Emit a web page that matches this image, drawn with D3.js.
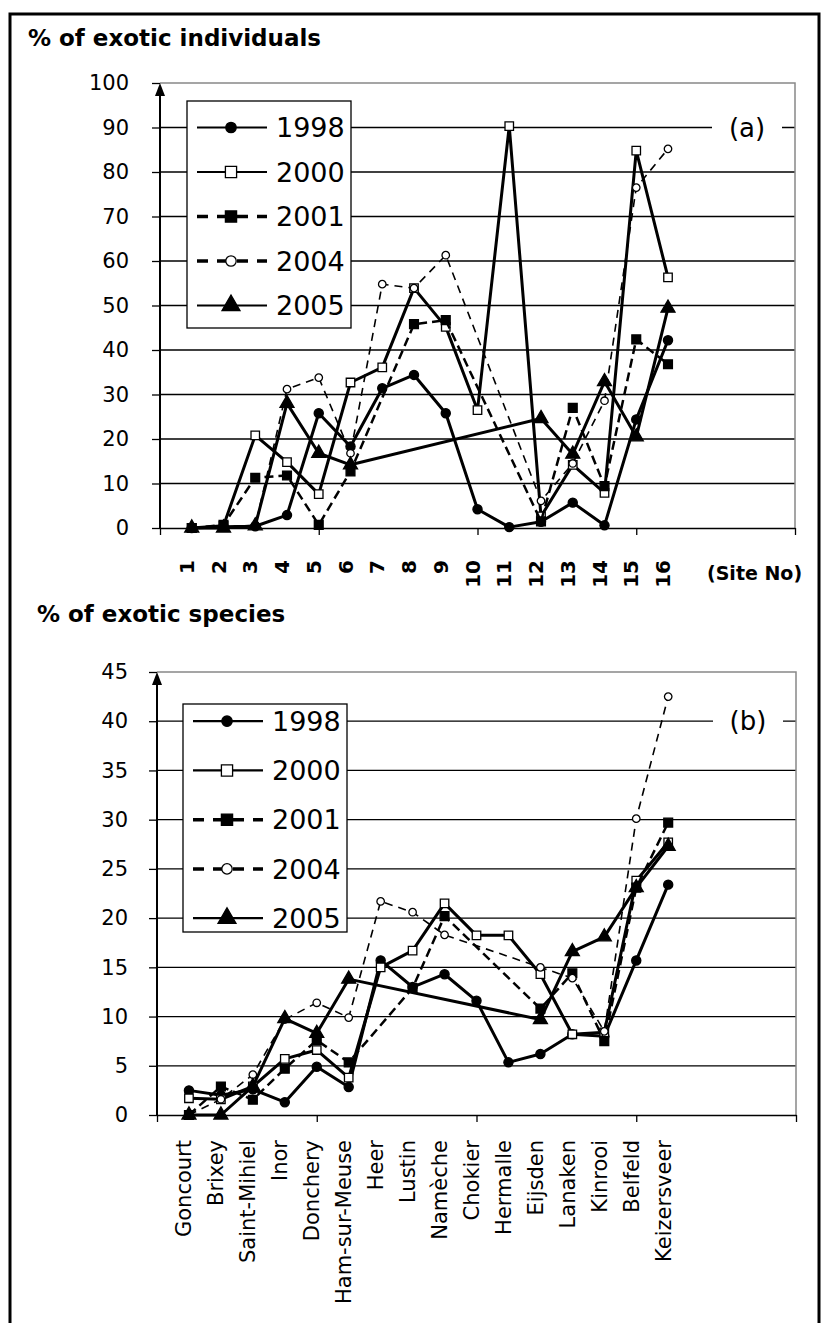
<!DOCTYPE html>
<html>
<head>
<meta charset="utf-8">
<script src="https://cdn.jsdelivr.net/npm/d3@7"></script>
<style>
  body { margin: 0; background: #fff; }
  svg { display: block; font-family: "Comic Sans MS", "DejaVu Sans", sans-serif; }
</style>
</head>
<body>
<svg id="chart" width="822" height="1323"></svg>
<script>
// site labels
const siteNumbers = ['1', '2', '3', '4', '5', '6', '7', '8', '9', '10', '11', '12', '13', '14', '15', '16'];
const siteNames = ['Goncourt', 'Brixey', 'Saint-Mihiel', 'Inor', 'Donchery', 'Ham-sur-Meuse', 'Heer', 'Lustin',
  'Namèche', 'Chokier', 'Hermalle', 'Eijsden', 'Lanaken', 'Kinrooi', 'Belfeld', 'Keizersveer'];
const years = ['1998', '2000', '2001', '2004', '2005'];

// (a) % of exotic individuals  (null = site not sampled that year)
const indiv1998 = [0, 0.3, 0.4, 2.9, 25.8, 18.3, 31.4, 34.4, 25.8, 4.2, 0.2, 1.4, 5.7, 0.6, 24.4, 42.2];
const indiv2000 = [0, 0.5, 20.8, 14.8, 7.6, 32.7, 36.1, 53.9, 45.2, 26.5, 90.3, 2.6, 14.2, 7.9, 84.8, 56.3];
const indiv2001 = [0, 0.7, 11.3, 11.8, 0.7, 12.7, null, 45.8, 46.7, null, null, 1.5, 27.0, 9.4, 42.4, 36.8];
const indiv2004 = [0, 0.3, 0.5, 31.2, 33.8, 16.8, 54.8, 53.9, 61.3, null, null, 6.1, 14.5, 28.6, 76.5, 85.2];
const indiv2005 = [0, 0, 0.5, 28.0, 16.8, 14.2, null, null, null, null, null, 24.6, 16.6, 32.9, 20.5, 49.4];

// (b) % of exotic species
const spec1998 = [2.5, 2.0, 2.6, 1.3, 4.9, 2.85, 15.7, 13.0, 14.3, 11.6, 5.35, 6.2, 8.2, 8.0, 15.7, 23.4];
const spec2000 = [1.7, 1.6, 2.9, 5.7, 6.6, 3.8, 15.0, 16.7, 21.5, 18.25, 18.25, 14.3, 8.2, 8.4, 23.8, 27.7];
const spec2001 = [0, 2.9, 1.55, 4.7, 7.6, 5.35, null, 12.9, 20.2, null, null, 10.8, 14.4, 7.5, 23.1, 29.7];
const spec2004 = [0, 1.6, 4.1, 9.7, 11.4, 9.9, 21.7, 20.6, 18.3, null, null, 15.0, 13.9, 8.5, 30.1, 42.5];
const spec2005 = [0, 0, 2.9, 9.8, 8.3, 13.8, null, null, null, null, null, 9.7, 16.6, 18.1, 23.1, 27.3];

// axis ticks
const ticksA = [0, 10, 20, 30, 40, 50, 60, 70, 80, 90, 100];
const ticksB = [0, 5, 10, 15, 20, 25, 30, 35, 40, 45];
const xTicks = [0, 5, 10, 15, 20];

// line / marker style per year
const styles = {
  '1998': { width: 3, dash: null, symbol: d3.symbolCircle, size: 66, legendSize: 85, fill: '#000' },
  '2000': { width: 3, dash: null, symbol: d3.symbolSquare, size: 72, legendSize: 125, fill: '#fff' },
  '2001': { width: 2.5, dash: '9,5', symbol: d3.symbolSquare, size: 78, legendSize: 125, fill: '#000' },
  '2004': { width: 1.6, dash: '8,6', symbol: d3.symbolCircle, size: 44, legendSize: 85, fill: '#fff' },
  '2005': { width: 3, dash: null, symbol: d3.symbolTriangle, size: 85, legendSize: 140, fill: '#000' }
};

const svg = d3.select('#chart');

// outer frame
svg.append('rect')
  .attr('x', 10).attr('y', 14).attr('width', 809).attr('height', 1330)
  .attr('fill', 'none').attr('stroke', '#000').attr('stroke-width', 3);

function drawPanel(p) {
  const x = d3.scaleLinear().domain([0, 20]).range([p.left, p.right]);
  const y = d3.scaleLinear().domain([0, p.yMax]).range([p.bottom, p.top]);
  const g = svg.append('g');

  // horizontal gridlines
  g.selectAll('.grid')
    .data(p.yTicks.filter(v => v > 0 && v < p.yMax))
    .enter().append('line')
    .attr('x1', p.left).attr('x2', p.right)
    .attr('y1', d => y(d)).attr('y2', d => y(d))
    .attr('stroke', '#000').attr('stroke-width', 1.3);

  // plot area border (top + right)
  g.append('path')
    .attr('d', `M${p.left},${p.top}H${p.right}V${p.bottom}`)
    .attr('fill', 'none').attr('stroke', '#888').attr('stroke-width', 1.5);

  // y axis
  const ya = g.append('g')
    .attr('transform', `translate(${p.left},0)`)
    .call(d3.axisLeft(y).tickValues(p.yTicks).tickSize(8).tickSizeOuter(0).tickPadding(p.pad));
  ya.attr('font-family', null).attr('font-size', null);
  ya.select('.domain').remove();
  ya.selectAll('line').attr('stroke', '#000').attr('stroke-width', 1.3);
  ya.selectAll('text').attr('font-size', 21).attr('fill', '#000');

  g.append('line')
    .attr('x1', p.left).attr('x2', p.left).attr('y1', p.bottom).attr('y2', p.top + 10)
    .attr('stroke', '#000').attr('stroke-width', 2);
  g.append('path')
    .attr('d', `M${p.left},${p.top}L${p.left - 5},${p.top + 13}L${p.left + 5},${p.top + 13}Z`)
    .attr('fill', '#000');

  // x axis
  const xa = g.append('g')
    .attr('transform', `translate(0,${p.bottom})`)
    .call(d3.axisBottom(x).tickValues(xTicks).tickSize(7).tickSizeOuter(0).tickFormat(''));
  xa.select('.domain').attr('stroke', '#000').attr('stroke-width', 1.5);
  xa.selectAll('line').attr('stroke', '#000').attr('stroke-width', 1.3);

  // site labels, rotated
  g.selectAll('.site')
    .data(p.labels)
    .enter().append('text')
    .attr('transform', (d, i) => `translate(${x(i + 1) - 5},${p.labelTop}) rotate(-90)`)
    .attr('text-anchor', 'end')
    .attr('dy', '0.35em')
    .attr('font-size', p.labelSize)
    .attr('font-weight', p.labelWeight)
    .text(d => d);

  // series
  const line = d3.line().x(d => x(d.n)).y(d => y(d.v));
  p.series.forEach((vals, k) => {
    const st = styles[years[k]];
    const pts = vals.map((v, i) => ({ n: i + 1, v })).filter(d => d.v !== null);
    g.append('path')
      .datum(pts)
      .attr('d', line)
      .attr('fill', 'none').attr('stroke', '#000')
      .attr('stroke-width', st.width)
      .attr('stroke-dasharray', st.dash)
      .attr('stroke-linejoin', 'round');
    g.selectAll(null)
      .data(pts)
      .enter().append('path')
      .attr('transform', d => `translate(${x(d.n)},${y(d.v)})`)
      .attr('d', d3.symbol().type(st.symbol).size(st.size))
      .attr('fill', st.fill).attr('stroke', '#000').attr('stroke-width', 1.3);
  });

  // legend
  const lg = g.append('g');
  lg.append('rect')
    .attr('x', p.legend.x).attr('y', p.legend.y)
    .attr('width', p.legend.w).attr('height', p.legend.h)
    .attr('fill', '#fff').attr('stroke', '#000').attr('stroke-width', 1.3);
  years.forEach((yr, i) => {
    const st = styles[yr];
    const ry = y(p.legend.rows[i]);
    const lx = p.legend.x + 10;
    lg.append('line')
      .attr('x1', lx).attr('x2', lx + 70).attr('y1', ry).attr('y2', ry)
      .attr('stroke', '#000').attr('stroke-width', st.dash ? 3.5 : 2.2)
      .attr('stroke-dasharray', st.dash ? '11,9' : null);
    lg.append('path')
      .attr('transform', `translate(${lx + 34},${ry})`)
      .attr('d', d3.symbol().type(st.symbol).size(st.legendSize))
      .attr('fill', st.fill).attr('stroke', '#000').attr('stroke-width', 1.3);
    lg.append('text')
      .attr('x', lx + 79).attr('y', ry).attr('dy', '0.36em')
      .attr('font-size', 27)
      .text(yr);
  });

  // panel tag, (a) / (b)
  const ty = y(p.tag.value);
  g.append('rect')
    .attr('x', p.tag.x - 35).attr('y', ty - 3).attr('width', 70).attr('height', 6)
    .attr('fill', '#fff');
  g.append('text')
    .attr('x', p.tag.x).attr('y', ty).attr('dy', '0.35em')
    .attr('text-anchor', 'middle').attr('font-size', 26)
    .text(p.tag.text);

  // title
  svg.append('text')
    .attr('x', p.title.x).attr('y', p.title.y)
    .attr('font-size', 23).attr('font-weight', 'bold')
    .text(p.title.text);
}

drawPanel({
  left: 160, right: 795, top: 83, bottom: 528, yMax: 100, yTicks: ticksA, pad: 23,
  labels: siteNumbers, labelTop: 560, labelSize: 20, labelWeight: 'bold',
  series: [indiv1998, indiv2000, indiv2001, indiv2004, indiv2005],
  legend: { x: 187, y: 101, w: 164, h: 227, rows: [90, 80, 70, 60, 50] },
  tag: { x: 747, value: 90, text: '(a)' },
  title: { x: 28, y: 46, text: '% of exotic individuals' }
});

drawPanel({
  left: 157, right: 796, top: 672, bottom: 1115, yMax: 45, yTicks: ticksB, pad: 21,
  labels: siteNames, labelTop: 1140, labelSize: 21, labelWeight: 'normal',
  series: [spec1998, spec2000, spec2001, spec2004, spec2005],
  legend: { x: 183, y: 704, w: 164, h: 228, rows: [40, 35, 30, 25, 20] },
  tag: { x: 748, value: 40, text: '(b)' },
  title: { x: 37, y: 622, text: '% of exotic species' }
});

// x axis caption for (a)
svg.append('text')
  .attr('x', 707).attr('y', 580)
  .attr('font-size', 19).attr('font-weight', 'bold')
  .text('(Site No)');
</script>
</body>
</html>
